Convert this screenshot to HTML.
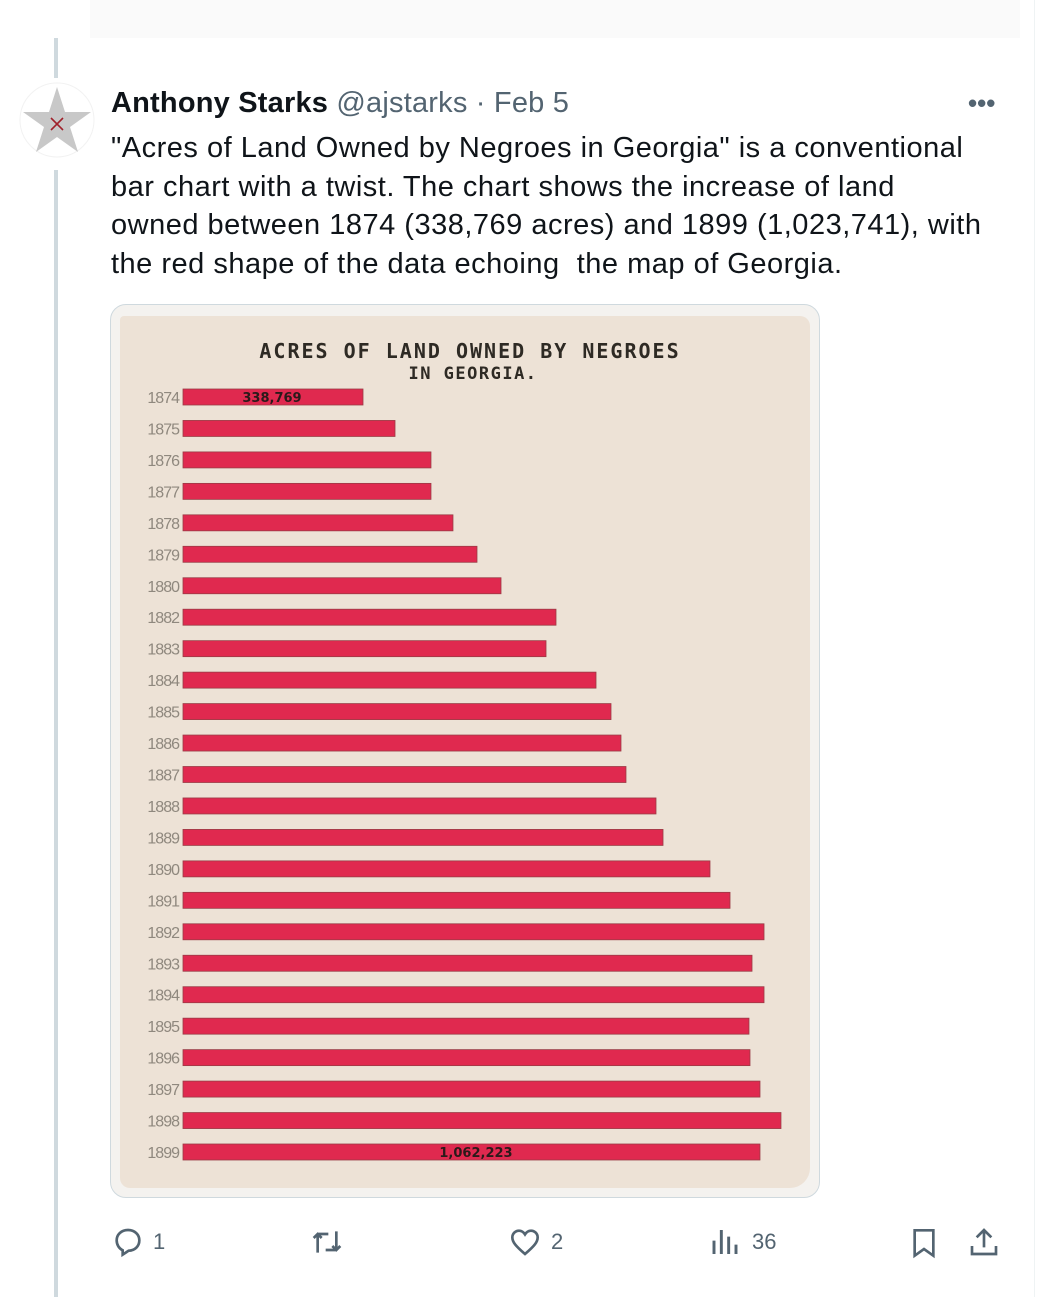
<!DOCTYPE html>
<html><head><meta charset="utf-8"><style>
body{margin:0;width:1050px;height:1297px;background:#fff;position:relative;overflow:hidden;font-family:"Liberation Sans",sans-serif;color:#0f1419}
.abs{position:absolute}
.tw{left:111px;top:129px;width:920px;font-size:29px;line-height:38.7px;letter-spacing:0.5px;white-space:nowrap}
.icon{color:#536471;font-size:22px}
</style></head><body>
<div class="abs" style="left:90px;top:0;width:930px;height:38px;background:#fafafa"></div>
<div class="abs" style="left:1034px;top:0;width:1px;height:1297px;background:#eff3f4"></div>
<div class="abs" style="left:54px;top:38px;width:4px;height:40px;background:#cfd9de"></div>
<div class="abs" style="left:54px;top:170px;width:4px;height:1127px;background:#cfd9de"></div>
<svg class="abs" style="left:19px;top:82px" width="76" height="76" viewBox="0 0 76 76">
<circle cx="38" cy="38" r="37" fill="#fff" stroke="#f2f2f2"/>
<polygon points="38,5 46,30 72,30 51,45 59,70 38,55 17,70 25,45 4,30 30,30" fill="#c8c8c8"/>
<path d="M32 36 L44 48 M44 36 L32 48" stroke="#a0202a" stroke-width="1.6"/>
</svg>
<div class="abs" style="left:111px;top:87px;font-size:29px;white-space:nowrap;letter-spacing:0.2px">
<b>Anthony Starks</b> <span style="color:#536471">@ajstarks · Feb 5</span></div>
<div class="abs" style="left:968px;top:88px;font-size:26px;color:#536471;font-weight:bold">•••</div>
<div class="abs tw">"Acres of Land Owned by Negroes in Georgia" is a conventional<br>bar chart with a twist. The chart shows the increase of land<br>owned between 1874 (338,769 acres) and 1899 (1,023,741), with<br>the red shape of the data echoing&nbsp; the map of Georgia.</div>
<div class="abs" style="left:110px;top:304px;width:708px;height:892px;border:1px solid #cfd9de;border-radius:16px;background:#f4f2ef;overflow:hidden">
<div class="abs" style="left:9px;top:11px;width:690px;height:872px;background:#ede2d6;border-radius:4px 10px 20px 10px"></div>
</div>
<svg class="abs" id="chart" style="left:0;top:0" width="1050" height="1297"></svg>
<div class="abs" style="left:0;top:1222px;width:1050px;height:40px">
<svg class="abs" style="left:112px;top:4px" width="32" height="32" viewBox="0 0 24 24"><path d="M12 3c5 0 8.5 3.4 8.5 7.8S17 18.5 12.5 18.5l-4.5 3v-3.3C5.5 17 3.5 14.3 3.5 10.8 3.5 6.4 7 3 12 3z" fill="none" stroke="#536471" stroke-width="2"/></svg>
<div class="abs icon" style="left:153px;top:7px">1</div>
<svg class="abs" style="left:309px;top:4px" width="36" height="32" viewBox="0 0 24 24"><path d="M5 20V6M2 9l3-3 3 3M5 6h8M19 4v14M16 15l3 3 3-3M19 18h-8" fill="none" stroke="#536471" stroke-width="2"/></svg>
<svg class="abs" style="left:509px;top:4px" width="32" height="32" viewBox="0 0 24 24"><path d="M12 21C5 15 2.5 12 2.5 8.5 2.5 5.5 5 3.5 7.5 3.5c2 0 3.5 1.2 4.5 2.8 1-1.6 2.5-2.8 4.5-2.8 2.5 0 5 2 5 5 0 3.5-2.5 6.5-9.5 12.5z" fill="none" stroke="#536471" stroke-width="2"/></svg>
<div class="abs icon" style="left:551px;top:7px">2</div>
<svg class="abs" style="left:710px;top:4px" width="32" height="32" viewBox="0 0 24 24"><path d="M3 21V11M8.5 21V3M14 21V8M19.5 21V14" stroke="#536471" stroke-width="2.2"/></svg>
<div class="abs icon" style="left:752px;top:7px">36</div>
<svg class="abs" style="left:908px;top:4px" width="32" height="34" viewBox="0 0 24 24"><path d="M5 2.5h14v19l-7-5-7 5z" fill="none" stroke="#536471" stroke-width="2"/></svg>
<svg class="abs" style="left:968px;top:4px" width="32" height="32" viewBox="0 0 24 24"><path d="M12 16V3M6.5 8.5 12 3l5.5 5.5M3 15v6h18v-6" fill="none" stroke="#536471" stroke-width="2"/></svg>
</div>
<script>
const years=["1874","1875","1876","1877","1878","1879","1880","1882","1883","1884","1885","1886","1887","1888","1889","1890","1891","1892","1893","1894","1895","1896","1897","1898","1899"];
const acres=[338769,399000,466700,466700,508100,553300,598500,702000,683200,777300,805500,824300,833700,890200,903400,991800,1029500,1093500,1070900,1093500,1065200,1067100,1085900,1125400,1085900];
const barLabels={"1874":"338,769","1899":"1,062,223"};
const NS="http://www.w3.org/2000/svg";
const svg=document.getElementById('chart');
const x0=183, xScale=v=>v*180/338769;
const y0=397, yStep=(1152-397)/(years.length-1), barH=16;
const yPos=i=>y0+i*yStep;
function mk(tag,attrs,txt){const e=document.createElementNS(NS,tag);for(const k in attrs)e.setAttribute(k,attrs[k]);if(txt)e.textContent=txt;svg.appendChild(e);return e;}
const t1=mk('text',{x:470,y:358,'text-anchor':'middle','font-family':'DejaVu Sans Mono, Liberation Mono, monospace','font-size':20,'font-weight':'bold',fill:'#2e2a24','letter-spacing':'2'},'ACRES OF LAND OWNED BY NEGROES');


const t2=mk('text',{x:473,y:379,'text-anchor':'middle','font-family':'DejaVu Sans Mono, Liberation Mono, monospace','font-size':17,'font-weight':'bold',fill:'#2e2a24','letter-spacing':'1.5'},'IN GEORGIA.');


years.forEach((yr,i)=>{
  const cy=yPos(i);
  const r=mk('rect',{x:x0,y:cy-barH/2,width:xScale(acres[i]),height:barH,fill:'#e0294f',stroke:'#9a3b45','stroke-width':0.8});
  
  
  const l=mk('text',{x:179,y:cy+6,'text-anchor':'end','font-family':'Liberation Sans, sans-serif','font-size':16,fill:'#8f887e','letter-spacing':'-1'},yr);
  
  
  if(barLabels[yr]){
    const lx= yr==="1874" ? 272 : 476;
    const v=mk('text',{x:lx,y:cy+5,'text-anchor':'middle','font-family':'DejaVu Sans, sans-serif','font-size':13,'font-weight':'bold',fill:'#2b1a1a'},barLabels[yr]);
    
    
  }
});
</script>
</body></html>
